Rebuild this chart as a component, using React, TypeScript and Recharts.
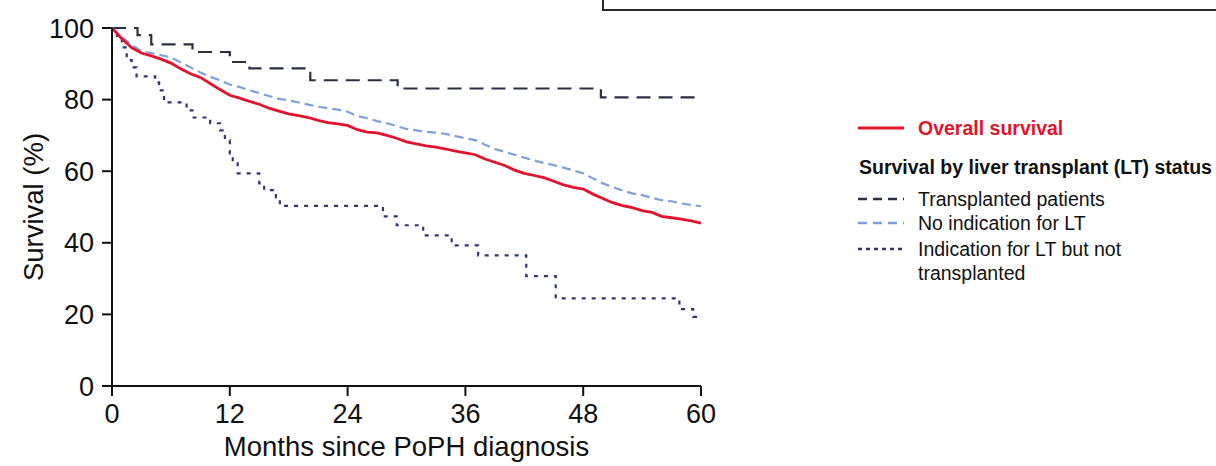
import { LineChart, Line, XAxis, YAxis } from 'recharts';

// months 0..60, read off the overall and "no indication" curves
const months = [
  0, 1, 2, 3, 4, 5, 6, 7, 8, 9, 10, 11, 12, 13, 14, 15, 16, 17, 18, 19, 20,
  21, 22, 23, 24, 25, 26, 27, 28, 29, 30, 31, 32, 33, 34, 35, 36, 37, 38, 39, 40,
  41, 42, 43, 44, 45, 46, 47, 48, 49, 50, 51, 52, 53, 54, 55, 56, 57, 58, 59, 60
];

const overallSurvival = [
  100, 97, 94.5, 93, 92.2, 91.3, 90.2, 88.6, 87.2, 86.2, 84.5, 82.8, 81.2, 80.4, 79.5, 78.7, 77.6, 76.8, 76, 75.5, 75,
  74.2, 73.6, 73.2, 72.8, 71.6, 70.9, 70.7, 70, 69.2, 68.2, 67.6, 67.1, 66.7, 66.2, 65.6, 65.1, 64.6, 63.4, 62.5, 61.6,
  60.3, 59.4, 58.8, 58.2, 57.2, 56.2, 55.5, 55, 53.6, 52.4, 51.2, 50.4, 49.8, 49, 48.5, 47.4, 47, 46.6, 46.1, 45.5
];

const noIndicationSurvival = [
  100, 97.5, 95.3, 93.5, 93, 92.4, 91.8, 90.4, 89, 87.6, 86.4, 85.4, 84.2, 83.5, 82.6, 81.8, 81, 80.2, 79.8, 79.2, 78.6,
  78, 77.6, 77.2, 76.6, 75.4, 74.8, 74, 73.4, 72.6, 71.8, 71.4, 71, 70.8, 70.4, 69.8, 69.2, 68.7, 67.4, 66.2, 65.4,
  64.6, 63.8, 63, 62.3, 61.7, 61, 60.2, 59.4, 58, 56.6, 55.6, 54.6, 53.8, 53.3, 52.6, 51.9, 51.6, 51, 50.6, 50.2
];

// step curves (month where the step starts, survival after it)
const transplantedMonths = [0, 2.6, 4.0, 8.2, 12.0, 14.0, 20.2, 29.1, 49.8, 59.6];
const transplantedSurvival = [100, 98, 95.4, 93.3, 90.5, 88.7, 85.4, 83.1, 80.6, 80.6];

const indicationMonths = [
  0, 0.5, 1.0, 1.5, 2.0, 2.5, 4.4, 4.8, 5.3, 7.6, 8.2, 10, 11, 11.5, 12, 12.3, 12.8, 15, 15.5, 16.7, 17.1,
  27.6, 29, 31.7, 34.6, 37.3, 42.2, 45.2, 57.8, 59.2, 59.6
];
const indicationSurvival = [
  100, 97, 94.6, 91, 89, 86.5, 84.8, 82.6, 79.2, 77, 75, 73.4, 71.4, 68.6, 65, 62.2, 59.4, 56.6, 54.7, 52.7, 50.3,
  47.4, 44.9, 42.1, 39.3, 36.5, 30.7, 24.5, 21.5, 19.3, 19.3
];

const xTicks = [0, 12, 24, 36, 48, 60];
const yTicks = [0, 20, 40, 60, 80, 100];

const curveData = months.map((m, i) => ({
  month: m,
  overall: overallSurvival[i],
  noIndication: noIndicationSurvival[i]
}));
const transplantedData = transplantedMonths.map((m, i) => ({ month: m, transplanted: transplantedSurvival[i] }));
const indicationData = indicationMonths.map((m, i) => ({ month: m, indication: indicationSurvival[i] }));

const FONT = '"Liberation Sans", Arial, sans-serif';
const RED = '#e3132c';
const DARK = '#2b2f42';
const LIGHT_BLUE = '#7e9fdc';
const NAVY = '#2f3674';

function LegendRow({ y, color, dash, width = 2.5 }: { y: number; color: string; dash?: string; width?: number }) {
  return (
    <svg style={{ position: 'absolute', left: 857, top: y - 5, width: 50, height: 10 }}>
      <line x1={1} y1={5} x2={47} y2={5} stroke={color} strokeWidth={width} strokeDasharray={dash} />
    </svg>
  );
}

const legendText: React.CSSProperties = {
  position: 'absolute',
  left: 918,
  fontFamily: FONT,
  fontSize: 19.5,
  lineHeight: '24px',
  color: '#111',
  whiteSpace: 'nowrap'
};

export default function App() {
  return (
    <div
      style={{
        position: 'fixed',
        left: 0,
        top: 0,
        width: 1216,
        height: 466,
        overflow: 'hidden',
        background: '#fff'
      }}
    >
      {/* bottom edge of the box above the figure */}
      <div
        style={{
          position: 'absolute',
          left: 602,
          top: -20,
          width: 700,
          height: 27,
          border: '2px solid #2a2a2a'
        }}
      />

      <LineChart
        width={1216}
        height={466}
        data={curveData}
        margin={{ top: 28, right: 515, left: 32, bottom: 30 }}
      >
        <XAxis
          dataKey="month"
          type="number"
          domain={[0, 60]}
          ticks={xTicks}
          allowDataOverflow
          stroke="#111"
          strokeWidth={2}
          tickSize={10}
          tickMargin={8}
          height={50}
          tick={{ fill: '#111', fontSize: 27, fontFamily: FONT }}
          tickLine={{ stroke: '#111', strokeWidth: 2 }}
        />
        <YAxis
          type="number"
          domain={[0, 100]}
          ticks={yTicks}
          width={80}
          stroke="#111"
          strokeWidth={2}
          tickSize={10}
          tickMargin={8}
          tick={{ fill: '#111', fontSize: 27, fontFamily: FONT }}
          tickLine={{ stroke: '#111', strokeWidth: 2 }}
          label={(props: any) => {
            const vb = props.viewBox;
            const cx = vb.x + 1;
            const cy = vb.y + vb.height / 2;
            return (
              <text
                x={cx}
                y={cy}
                transform={`rotate(-90, ${cx}, ${cy})`}
                textAnchor="middle"
                dominantBaseline="central"
                fontSize={27.5}
                fontFamily={FONT}
                fill="#111"
              >
                Survival (%)
              </text>
            );
          }}
        />
        <Line
          data={transplantedData}
          dataKey="transplanted"
          type="stepAfter"
          stroke={DARK}
          strokeWidth={2.2}
          strokeDasharray="14 8"
          dot={false}
          isAnimationActive={false}
        />
        <Line
          data={indicationData}
          dataKey="indication"
          type="stepAfter"
          stroke={NAVY}
          strokeWidth={2.2}
          strokeDasharray="4 6"
          dot={false}
          isAnimationActive={false}
        />
        <Line
          dataKey="noIndication"
          type="linear"
          stroke={LIGHT_BLUE}
          strokeWidth={2.2}
          strokeDasharray="9 5"
          dot={false}
          isAnimationActive={false}
        />
        <Line
          dataKey="overall"
          type="linear"
          stroke={RED}
          strokeWidth={2.8}
          dot={false}
          isAnimationActive={false}
        />
      </LineChart>

      <div
        style={{
          position: 'absolute',
          left: 112,
          width: 589,
          top: 431,
          textAlign: 'center',
          fontFamily: FONT,
          fontSize: 27.5,
          color: '#111',
          whiteSpace: 'nowrap'
        }}
      >
        Months since PoPH diagnosis
      </div>

      <LegendRow y={128} color={RED} width={3} />
      <div style={{ ...legendText, top: 116, color: RED, fontWeight: 700 }}>Overall survival</div>
      <div style={{ ...legendText, left: 859, top: 155, fontWeight: 700 }}>
        Survival by liver transplant (LT) status
      </div>
      <LegendRow y={199} color={DARK} dash="9 6" />
      <div style={{ ...legendText, top: 187 }}>Transplanted patients</div>
      <LegendRow y={223} color={LIGHT_BLUE} dash="9 6" />
      <div style={{ ...legendText, top: 211 }}>No indication for LT</div>
      <LegendRow y={249} color={NAVY} dash="4 4" />
      <div style={{ ...legendText, top: 237 }}>
        Indication for LT but not
        <br />
        transplanted
      </div>
    </div>
  );
}
